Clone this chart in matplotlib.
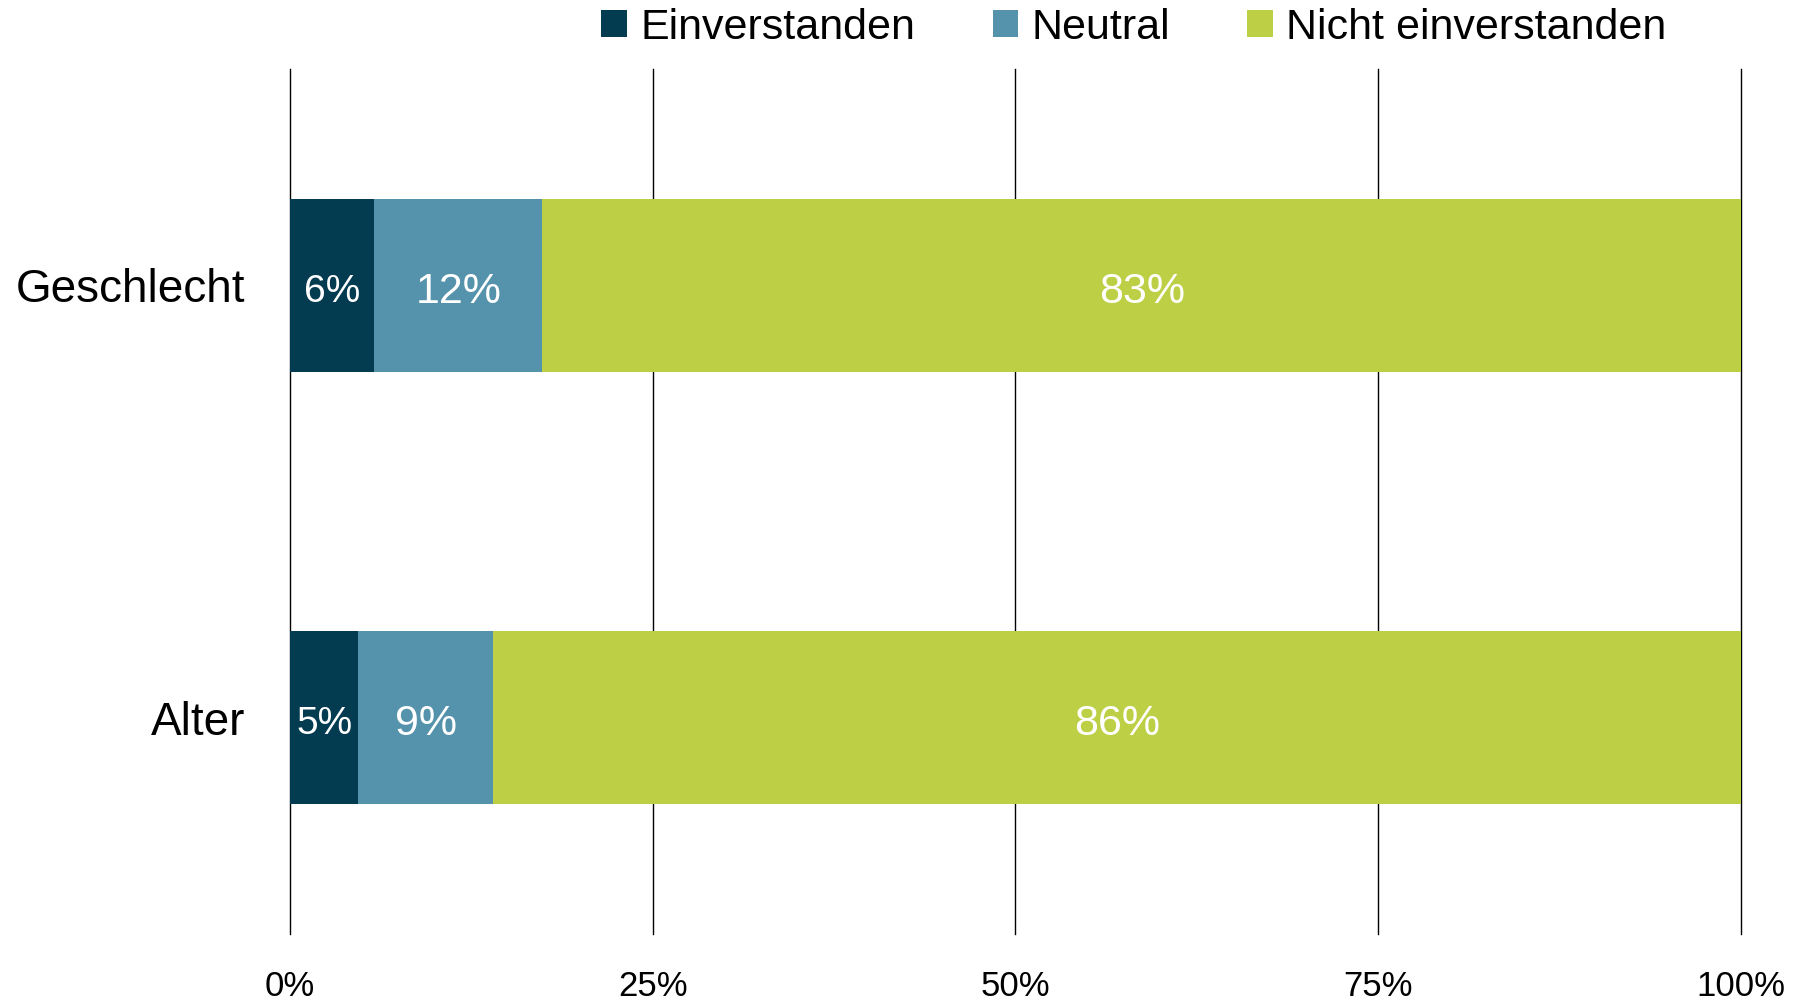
import matplotlib
matplotlib.use("Agg")
import matplotlib.pyplot as plt
import numpy as np

matplotlib.rcParams["font.family"] = ["Liberation Sans", "DejaVu Sans"]

# data (percent shares)
categories = ["Geschlecht", "Alter"]
series_names = ["Einverstanden", "Neutral", "Nicht einverstanden"]
einverstanden = [5.8, 4.7]
neutral = [11.6, 9.3]
nicht_einverstanden = [82.6, 86.0]
bar_labels = [["6%", "12%", "83%"], ["5%", "9%", "86%"]]
xticks = [0, 25, 50, 75, 100]
xtick_labels = ["0%", "25%", "50%", "75%", "100%"]

colors = ["#033B50", "#5592AB", "#BDCF44"]
label_sizes = [28, 31, 31]

fig = plt.figure(figsize=(17.97, 10.0), dpi=100)
ax = fig.add_axes([0.1614, 0.066, 0.8074, 0.865])

y = np.arange(len(categories))
left = np.zeros(len(categories))
for i, vals in enumerate([einverstanden, neutral, nicht_einverstanden]):
    vals = np.array(vals)
    ax.barh(y, vals, left=left, height=0.4, color=colors[i],
            label=series_names[i], zorder=2)
    for j in range(len(categories)):
        ax.text(left[j] + vals[j] / 2, y[j] + 0.015, bar_labels[j][i],
                ha="center", va="center", color="white",
                fontsize=label_sizes[i], zorder=3)
    left = left + vals

ax.set_xlim(0, 100)
ax.set_ylim(1.5, -0.5)
ax.set_xticks(xticks)
ax.set_xticklabels(xtick_labels, fontsize=25)
ax.set_yticks(y)
ax.set_yticklabels(categories, fontsize=33)
ax.tick_params(axis="x", length=0, pad=26)
ax.tick_params(axis="y", length=0, pad=32)
ax.grid(axis="x", color="black", linewidth=1.0, zorder=1)
for gl in ax.xaxis.get_gridlines():
    gl.set_clip_on(False)
for s in ax.spines.values():
    s.set_visible(False)

fig.legend(loc="center", bbox_to_anchor=(0.631, 0.972), ncol=3,
           frameon=False, fontsize=31, handlelength=0.6, handleheight=0.6,
           handletextpad=0.3, columnspacing=1.8, borderpad=0, borderaxespad=0)

plt.savefig("out.png", dpi=100)
